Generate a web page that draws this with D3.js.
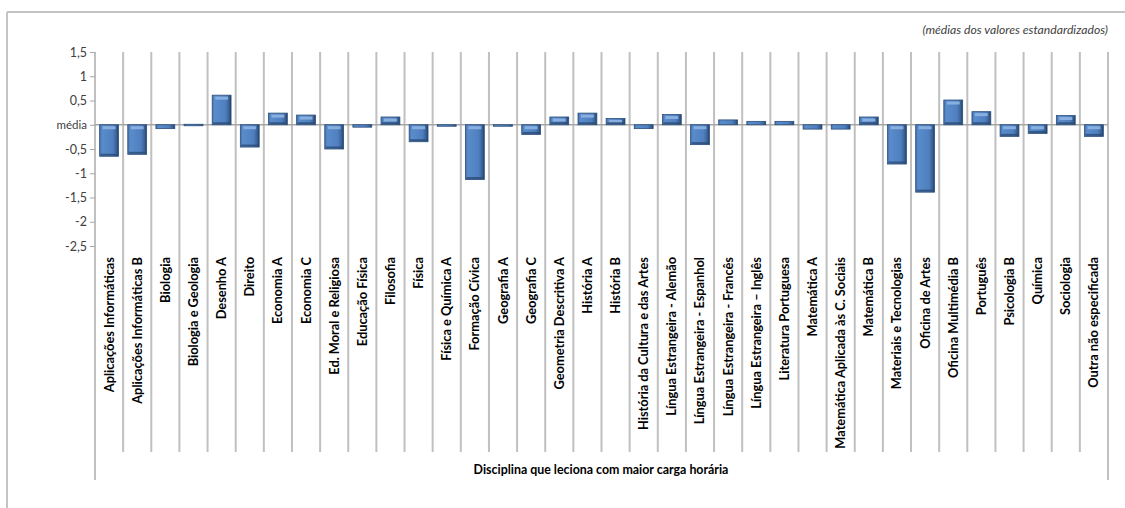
<!DOCTYPE html>
<html>
<head>
<meta charset="utf-8">
<script src="https://cdn.jsdelivr.net/npm/d3@7"></script>
<style>
  body { margin: 0; background: #fff; }
  svg { display: block; font-family: Lato, 'Open Sans', sans-serif; }
</style>
</head>
<body>
<div id="chart"></div>
<script>
const disciplinas = [
  'Aplicações Informáticas', 'Aplicações Informáticas B', 'Biologia', 'Biologia e Geologia',
  'Desenho A', 'Direito', 'Economia A', 'Economia C', 'Ed. Moral e Religiosa', 'Educação Física',
  'Filosofia', 'Física', 'Física e Química A', 'Formação Cívica', 'Geografia A', 'Geografia C',
  'Geometria Descritiva A', 'História A', 'História B', 'História da Cultura e das Artes',
  'Língua Estrangeira - Alemão', 'Língua Estrangeira - Espanhol', 'Língua Estrangeira - Francês',
  'Língua Estrangeira – Inglês', 'Literatura Portuguesa', 'Matemática A',
  'Matemática Aplicada às C. Sociais', 'Matemática B', 'Materiais e Tecnologias', 'Oficina de Artes',
  'Oficina Multimédia B', 'Português', 'Psicologia B', 'Química', 'Sociologia', 'Outra não especificada'
];
const medias = [
  -0.65, -0.61, -0.08, 0.01, 0.61, -0.46, 0.24, 0.20, -0.50, -0.05,
  0.16, -0.35, -0.02, -1.13, -0.02, -0.20, 0.16, 0.24, 0.13, -0.08,
  0.21, -0.41, 0.10, 0.07, 0.07, -0.09, -0.09, 0.16, -0.81, -1.39,
  0.51, 0.27, -0.24, -0.18, 0.19, -0.24
];
const yTicks = [1.5, 1, 0.5, 0, -0.5, -1, -1.5, -2, -2.5];
const yTickLabels = ['1,5', '1', '0,5', 'média', '-0,5', '-1', '-1,5', '-2', '-2,5'];

const w = 1125, h = 508;
const plotLeft = 95, plotRight = 1108, plotTop = 52, plotBottom = 246;
const gridBottom = 452, axisBottom = 480;

const svg = d3.select('#chart').append('svg')
  .attr('width', w)
  .attr('height', h);

const defs = svg.append('defs');
const grad = defs.append('linearGradient').attr('id', 'barGrad')
  .attr('x1', 0).attr('x2', 1).attr('y1', 0).attr('y2', 0);
grad.append('stop').attr('offset', '0%').attr('stop-color', '#3f6da6');
grad.append('stop').attr('offset', '12%').attr('stop-color', '#5a8ccb');
grad.append('stop').attr('offset', '70%').attr('stop-color', '#4f7fbe');
grad.append('stop').attr('offset', '88%').attr('stop-color', '#3a649a');
grad.append('stop').attr('offset', '100%').attr('stop-color', '#243f63');

// outer frame
svg.append('line').attr('x1', 7).attr('x2', w).attr('y1', 12).attr('y2', 12)
  .attr('stroke', '#c4c4c4').attr('stroke-width', 2);
svg.append('line').attr('x1', 7).attr('x2', 7).attr('y1', 12).attr('y2', h)
  .attr('stroke', '#c4c4c4').attr('stroke-width', 2);

svg.append('text')
  .attr('x', plotRight)
  .attr('y', 34)
  .attr('text-anchor', 'end')
  .attr('font-size', 12.2)
  .attr('font-style', 'italic')
  .attr('fill', '#404040')
  .text('(médias dos valores estandardizados)');

const xScale = d3.scaleBand()
  .domain(disciplinas)
  .range([plotLeft, plotRight])
  .paddingInner(0.33)
  .paddingOuter(0.165);

const yScale = d3.scaleLinear()
  .domain([-2.5, 1.5])
  .range([plotBottom, plotTop]);

// category boundary lines
const step = (plotRight - plotLeft) / disciplinas.length;
const bounds = d3.range(disciplinas.length + 1).map(i => plotLeft + i * step);
svg.append('g').selectAll('line')
  .data(bounds)
  .enter()
  .append('line')
  .attr('x1', d => d).attr('x2', d => d)
  .attr('y1', plotTop)
  .attr('y2', (d, i) => (i === 0 || i === disciplinas.length) ? axisBottom : gridBottom)
  .attr('stroke', '#c0c0c0')
  .attr('stroke-width', 2);

// y axis
const yAxis = d3.axisLeft(yScale)
  .tickValues(yTicks)
  .tickSize(5)
  .tickFormat((d, i) => yTickLabels[i]);

const yg = svg.append('g')
  .attr('transform', `translate(${plotLeft},0)`)
  .call(yAxis);
yg.select('.domain').remove();
yg.selectAll('.tick line').attr('stroke', '#a6a6a6');
yg.selectAll('.tick text')
  .attr('font-size', 12.5)
  .attr('fill', '#404040')
  .attr('x', -8)
  .attr('font-family', 'Lato, sans-serif');
yg.selectAll('.tick text').filter(d => d === 0).attr('font-size', 11.5);

// zero line
svg.append('line')
  .attr('x1', plotLeft).attr('x2', plotRight)
  .attr('y1', yScale(0)).attr('y2', yScale(0))
  .attr('stroke', '#a6a6a6').attr('stroke-width', 1.5);

// bars
const bars = svg.append('g').selectAll('g')
  .data(disciplinas.map((d, i) => ({ name: d, value: medias[i] })))
  .enter()
  .append('g');

bars.append('rect')
  .attr('x', d => xScale(d.name))
  .attr('y', d => yScale(Math.max(0, d.value)))
  .attr('width', xScale.bandwidth())
  .attr('height', d => Math.max(1.5, Math.abs(yScale(d.value) - yScale(0))))
  .attr('fill', 'url(#barGrad)')
  .attr('stroke', '#2d4f7c')
  .attr('stroke-width', 0.8);

// bevel highlight near top
bars.filter(d => Math.abs(yScale(d.value) - yScale(0)) > 6)
  .append('rect')
  .attr('x', d => xScale(d.name) + 3)
  .attr('y', d => yScale(Math.max(0, d.value)) + 1.5)
  .attr('width', xScale.bandwidth() - 6)
  .attr('height', 3)
  .attr('fill', '#8fb4e3')
  .attr('opacity', 0.9);

// bevel dark bottom
bars.filter(d => Math.abs(yScale(d.value) - yScale(0)) > 6)
  .append('rect')
  .attr('x', d => xScale(d.name) + 1)
  .attr('y', d => yScale(Math.min(0, d.value)) - 2.5)
  .attr('width', xScale.bandwidth() - 2)
  .attr('height', 2)
  .attr('fill', '#2b4b76')
  .attr('opacity', 0.8);

// category labels
svg.append('g').selectAll('text')
  .data(disciplinas)
  .enter()
  .append('text')
  .attr('transform', d => `translate(${xScale(d) + xScale.bandwidth() / 2 + 4.5},${plotBottom + 11})rotate(-90)`)
  .attr('text-anchor', 'end')
  .attr('font-size', 12.8)
  .attr('font-weight', 'bold')
  .attr('fill', '#000')
  .text(d => d);

svg.append('text')
  .attr('x', 601)
  .attr('y', 474)
  .attr('text-anchor', 'middle')
  .attr('font-size', 12.4)
  .attr('font-weight', 'bold')
  .attr('fill', '#000')
  .text('Disciplina que leciona com maior carga horária');
</script>
</body>
</html>
